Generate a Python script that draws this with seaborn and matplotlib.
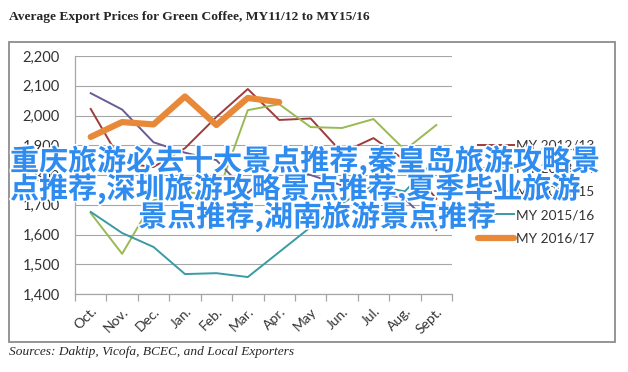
import matplotlib
matplotlib.use("Agg")
import matplotlib.pyplot as plt
import matplotlib.patheffects as pe
from matplotlib.patches import Rectangle
from matplotlib.ticker import FuncFormatter, FixedLocator
import pandas as pd
import seaborn as sns

months = ["Oct.", "Nov.", "Dec.", "Jan.", "Feb.", "Mar.", "Apr.", "May", "Jun.", "Jul.", "Aug.", "Sept."]
my_2012_13 = [2022, 1840, 1827, 1890, 1995, 2089, 1985, 1990, 1875, 1924, 1850, 1720]
my_2013_14 = [1672, 1535, 1715, 1745, 1725, 2018, 2038, 1961, 1958, 1988, 1884, 1968]
my_2014_15 = [2075, 2020, 1910, 1875, 1850, 1740, 1830, 1800, 1765, 1745, 1720, 1615]
my_2015_16 = [1676, 1605, 1558, 1467, 1470, 1457, 1541, 1625, 1705, 1765, 1745, 1855]
my_2016_17 = [1928, 1978, 1970, 2064, 1968, 2059, 2045]

series = {
    "MY 2012/13": my_2012_13,
    "MY 2013/14": my_2013_14,
    "MY 2014/15": my_2014_15,
    "MY 2015/16": my_2015_16,
    "MY 2016/17": my_2016_17,
}
colors = ["#9E3B3B", "#98B954", "#6B5B95", "#3A9AA5", "#E8893A"]
widths = [1.4, 1.4, 1.4, 1.4, 4.5]

sns.set_style("white")
plt.rcParams["font.family"] = ["Lato", "DejaVu Sans"]

fig = plt.figure(figsize=(6.28, 3.72), dpi=100)
ax = fig.add_axes([75 / 628, 1 - 294 / 372, 377 / 628, 238 / 372])

for (name, vals), c, lw in zip(series.items(), colors, widths):
    df = pd.DataFrame({"month": months[:len(vals)], "price": vals})
    sns.lineplot(data=df, x="month", y="price", color=c, linewidth=lw,
                 ax=ax, label=name, solid_capstyle="round" if lw > 3 else "projecting")

ax.set_xlim(-0.5, 11.5)
ax.set_ylim(1400, 2200)
ax.set_yticks(range(1400, 2201, 100))
ax.yaxis.set_major_formatter(FuncFormatter(lambda v, p: f"{int(v):,}"))
ax.grid(axis="y", color="#a6a6a6", linewidth=0.8)
ax.set_axisbelow(True)
ax.set_xlabel("")
ax.set_ylabel("")
for s in ["top", "right"]:
    ax.spines[s].set_visible(False)
for s in ["left", "bottom"]:
    ax.spines[s].set_color("#a6a6a6")
    ax.spines[s].set_linewidth(0.9)

ax.xaxis.set_minor_locator(FixedLocator([i - 0.5 for i in range(13)]))
ax.tick_params(axis="x", which="minor", length=5, color="#a6a6a6", width=0.9, direction="out", bottom=True)
ax.tick_params(axis="x", which="major", length=0, pad=8, labelsize=10, labelcolor="#333333")
ax.tick_params(axis="y", length=0, pad=11, labelsize=10.5, labelcolor="#333333")
plt.setp(ax.get_xticklabels(), rotation=45, ha="right", rotation_mode="anchor")

ax.legend(loc="center left", bbox_to_anchor=(466 / 628, 1 - 192 / 372),
          bbox_transform=fig.transFigure, frameon=False, fontsize=9.8,
          handlelength=2.6, labelspacing=0.82, handletextpad=0.15,
          labelcolor="#333333")

fig.text(9 / 628, 1 - 17 / 372, "Average Export Prices for Green Coffee, MY11/12 to MY15/16",
         family="Liberation Serif", weight="bold", fontsize=9.7, va="center", ha="left")
fig.text(9 / 628, 1 - 352 / 372, "Sources: Daktip, Vicofa, BCEC, and Local Exporters",
         family="Liberation Serif", style="italic", fontsize=9.6, va="center", ha="left")

fig.patches.append(Rectangle((9 / 628, 1 - 342 / 372), 606 / 628, 300 / 372,
                             transform=fig.transFigure, fill=False,
                             edgecolor="#8c8c8c", linewidth=1.3))

overlay = ["重庆旅游必去十大景点推荐,秦皇岛旅游攻略景",
           "点推荐,深圳旅游攻略景点推荐,夏季毕业旅游",
           "景点推荐,湖南旅游景点推荐"]
xs = [10 / 628, 10 / 628, 317 / 628]
has = ["left", "left", "center"]
for i, line in enumerate(overlay):
    fig.text(xs[i], 1 - (161 + 28 * i) / 372, line,
             family=["Noto Sans CJK SC", "DejaVu Sans"], weight="bold",
             fontsize=20.9, color="#2E8BEF", ha=has[i], va="center",
             path_effects=[pe.withStroke(linewidth=2.5, foreground="white")])

fig.savefig("out.png", dpi=100)
